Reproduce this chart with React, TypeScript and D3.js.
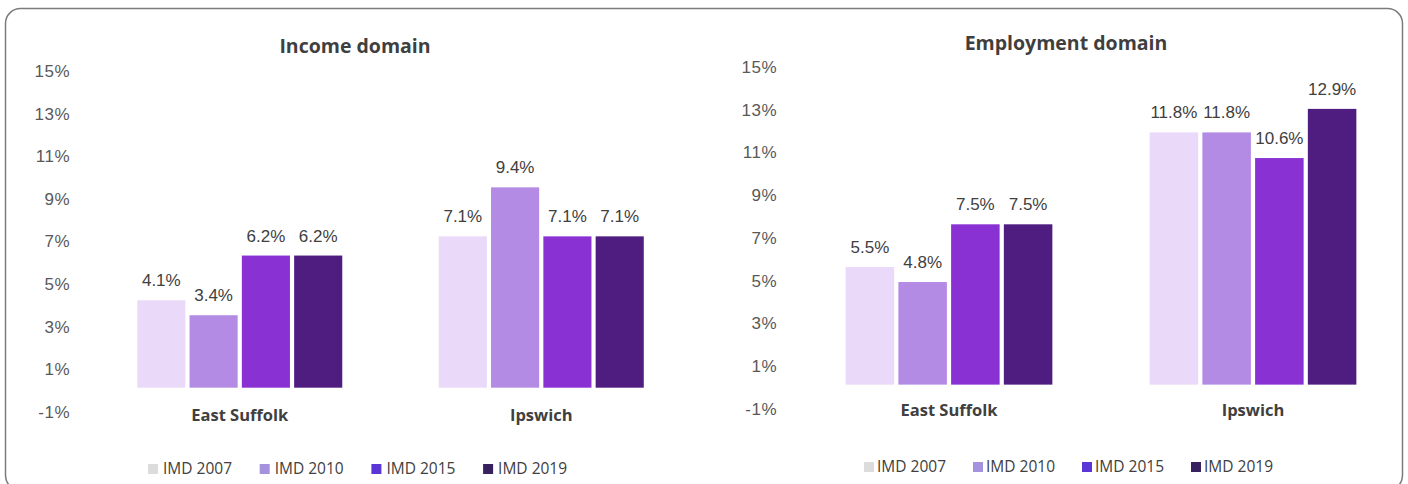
import React, { useRef, useEffect } from "react";
import * as d3 from "d3";

const areas = ["East Suffolk", "Ipswich"];
const series = ["IMD 2007", "IMD 2010", "IMD 2015", "IMD 2019"];
const incomeValues = [
  [4.1, 3.4, 6.2, 6.2],
  [7.1, 9.4, 7.1, 7.1],
];
const employmentValues = [
  [5.5, 4.8, 7.5, 7.5],
  [11.8, 11.8, 10.6, 12.9],
];
const yTicks = [-1, 1, 3, 5, 7, 9, 11, 13, 15];

const barColors = ["#ead9f8", "#b48be4", "#8a31d4", "#4f1c80"];
const swatchColors = ["#dcdcdc", "#a592de", "#5a36d6", "#37215f"];

type Panel = {
  title: string;
  values: number[][];
  xRange: [number, number];
  yRange: [number, number];
  tickRight: number;
  titleX: number;
  titleY: number;
  catY: number;
  legendX: number;
  legendStep: number;
  legendGap: number;
  legendY: number;
};

const panels: Panel[] = [
  {
    title: "Income domain", values: incomeValues,
    xRange: [89, 692], yRange: [409, 68], tickRight: 70,
    titleX: 355, titleY: 53, catY: 421,
    legendX: 148, legendStep: 111.7, legendGap: 15, legendY: 469,
  },
  {
    title: "Employment domain", values: employmentValues,
    xRange: [797, 1405], yRange: [406, 64], tickRight: 777,
    titleX: 1066, titleY: 50, catY: 416,
    legendX: 864, legendStep: 109, legendGap: 13, legendY: 467,
  },
];

const App = () => {
  const svgRef = useRef<SVGSVGElement>(null);

  useEffect(() => {
    const svg = d3.select(svgRef.current);
    svg.selectAll("*").remove();

    const width = 1408;
    const height = 484;
    svg.attr("width", width).attr("height", height);

    svg.append("rect")
      .attr("x", 5.5).attr("y", 8.5)
      .attr("width", 1397).attr("height", 482)
      .attr("rx", 15)
      .attr("fill", "#fff")
      .attr("stroke", "#7c7c7c")
      .attr("stroke-width", 1.5);

    panels.forEach((p) => {
      const g = svg.append("g");

      const y = d3.scaleLinear().domain([-1, 15]).range(p.yRange);
      const x0 = d3.scaleBand<string>().domain(areas).range(p.xRange)
        .paddingInner(0.32).paddingOuter(0.16);
      const x1 = d3.scaleBand<string>().domain(series).range([0, x0.bandwidth()])
        .paddingInner(0.08);

      g.append("text")
        .attr("x", p.titleX).attr("y", p.titleY)
        .attr("text-anchor", "middle")
        .style("font-family", "'Open Sans', sans-serif")
        .style("font-weight", 700)
        .style("font-size", "19.5px")
        .style("fill", "#3f3f3f")
        .text(p.title);

      g.selectAll("text.tick")
        .data(yTicks)
        .join("text")
        .attr("class", "tick")
        .attr("x", p.tickRight)
        .attr("y", d => y(d) + 3)
        .attr("dy", "0.35em")
        .attr("text-anchor", "end")
        .style("font-family", "'Liberation Sans', Arial, sans-serif")
        .style("font-size", "17px")
        .style("letter-spacing", "0.5px")
        .style("fill", "#595959")
        .text(d => `${d}%`);

      areas.forEach((area, ai) => {
        const gx = x0(area)!;
        series.forEach((s, si) => {
          const v = p.values[ai][si];
          g.append("rect")
            .attr("x", gx + x1(s)!)
            .attr("y", y(v))
            .attr("width", x1.bandwidth())
            .attr("height", y(0) - y(v))
            .attr("fill", barColors[si]);
          g.append("text")
            .attr("x", gx + x1(s)! + x1.bandwidth() / 2)
            .attr("y", y(v) - 14)
            .attr("text-anchor", "middle")
            .style("font-family", "'Liberation Sans', Arial, sans-serif")
            .style("font-size", "17px")
            .style("fill", "#404040")
            .text(`${v.toFixed(1)}%`);
        });
        g.append("text")
          .attr("x", gx + x0.bandwidth() / 2)
          .attr("y", p.catY)
          .attr("text-anchor", "middle")
          .style("font-family", "'Open Sans', sans-serif")
          .style("font-weight", 700)
          .style("font-size", "16.5px")
          .style("fill", "#404040")
          .text(area);
      });

      // legend
      series.forEach((s, si) => {
        const lx = p.legendX + si * p.legendStep;
        g.append("rect")
          .attr("x", lx).attr("y", p.legendY - 5)
          .attr("width", 10).attr("height", 10)
          .attr("fill", swatchColors[si]);
        g.append("text")
          .attr("x", lx + p.legendGap)
          .attr("y", p.legendY)
          .attr("dy", "0.35em")
          .style("font-family", "'Open Sans', sans-serif")
          .style("font-size", "15.5px")
          .style("fill", "#404040")
          .text(s);
      });
    });
  }, []);

  return (
    <div style={{ position: "absolute", left: 0, top: 0 }}>
      <svg ref={svgRef} style={{ display: "block" }}></svg>
    </div>
  );
};

export default App;
